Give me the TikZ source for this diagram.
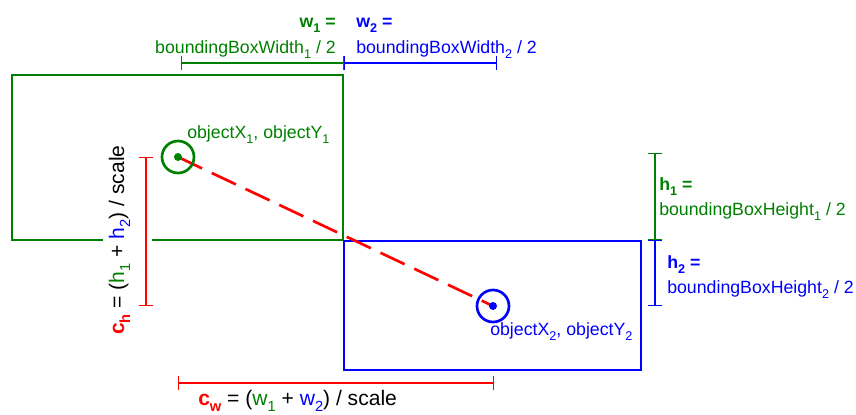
\documentclass[tikz,border=0pt]{standalone}
\usepackage{fontspec}
\setmainfont{Liberation Sans}
\usetikzlibrary{arrows.meta}
\definecolor{grn}{RGB}{0,128,0}
\definecolor{blu}{RGB}{0,0,255}
\definecolor{rd}{RGB}{255,0,0}
\newcommand\lo[2][9.5]{\raisebox{-0.55ex}{\fontsize{#1}{#1}\selectfont#2}}

\begin{document}
\begin{tikzpicture}[x=0.75pt,y=-0.75pt,
  box/.style={line width=2pt},
  dim/.style={line width=1.1pt,{Bar[width=11pt]}-{Bar[width=11pt]}},
  lbl/.style={inner sep=0pt,font=\fontsize{13.3}{15}\selectfont},
  biglbl/.style={inner sep=0pt,font=\fontsize{15.8}{18}\selectfont}]
  \useasboundingbox (0,0) rectangle (856,414);
  % the two boxes
  \draw[box,grn] (12,75) rectangle (343,240);
  \draw[box,blu] (344,241) rectangle (641,370);
  \fill[white] (103,232) rectangle (152,248);
  % object centres
  \coordinate (obj1) at (178,157);
  \coordinate (obj2) at (493,306);
  \draw[rd,line width=2pt,dash pattern=on 20pt off 8pt] (obj1) -- (obj2);
  \draw[grn,line width=2pt] (obj1) circle(12pt);
  \fill[grn] (obj1) circle(3pt);
  \draw[blu,line width=2pt] (obj2) circle(12pt);
  \fill[blu] (obj2) circle(3pt);
  \node[lbl,grn,anchor=base west] (o1) at (187,138) {objectX\lo{1}, objectY\lo{1}};
  \node[lbl,blu,anchor=base west] (o2) at (490,335) {objectX\lo{2}, objectY\lo{2}};
  % widths
  \draw[dim,grn] (181,63) -- (344,63);
  \draw[dim,blu] (344,63) -- (497,63);
  \node[lbl,grn,anchor=base east] (w1) at (336,27) {\bfseries w\lo{1} =};
  \node[lbl,grn,anchor=base east] (bw1) at (336,53) {boundingBoxWidth\lo{1} / 2};
  \node[lbl,blu,anchor=base west] (w2) at (356,27) {\bfseries w\lo{2} =};
  \node[lbl,blu,anchor=base west] (bw2) at (356,53) {boundingBoxWidth\lo{2} / 2};
  % heights
  \draw[dim,grn] (655,153) -- (655,240);
  \draw[dim,blu] (655,240) -- (655,306);
  \node[lbl,grn,anchor=base west] (h1) at (659,190) {\bfseries h\lo{1} =};
  \node[lbl,grn,anchor=base west] (bh1) at (659,215) {boundingBoxHeight\lo{1} / 2};
  \node[lbl,blu,anchor=base west] (h2) at (667,268) {\bfseries h\lo{2} =};
  \node[lbl,blu,anchor=base west] (bh2) at (667,293) {boundingBoxHeight\lo{2} / 2};
  % centre distances
  \draw[dim,rd] (146,157) -- (146,306);
  \draw[dim,rd] (178,383) -- (494,383);
  \node[biglbl,anchor=base west,rotate=90] (ch) at (124,335)
    {\textcolor{rd}{\bfseries c\lo[11]{h}} = (\textcolor{grn}{h\lo[11]{1}} + \textcolor{blu}{h\lo[11]{2}}) / scale};
  \node[biglbl,anchor=base west] (cw) at (198,405)
    {\textcolor{rd}{\bfseries c\lo[11]{w}} = (\textcolor{grn}{w\lo[11]{1}} + \textcolor{blu}{w\lo[11]{2}}) / scale};
\end{tikzpicture}
\end{document}
